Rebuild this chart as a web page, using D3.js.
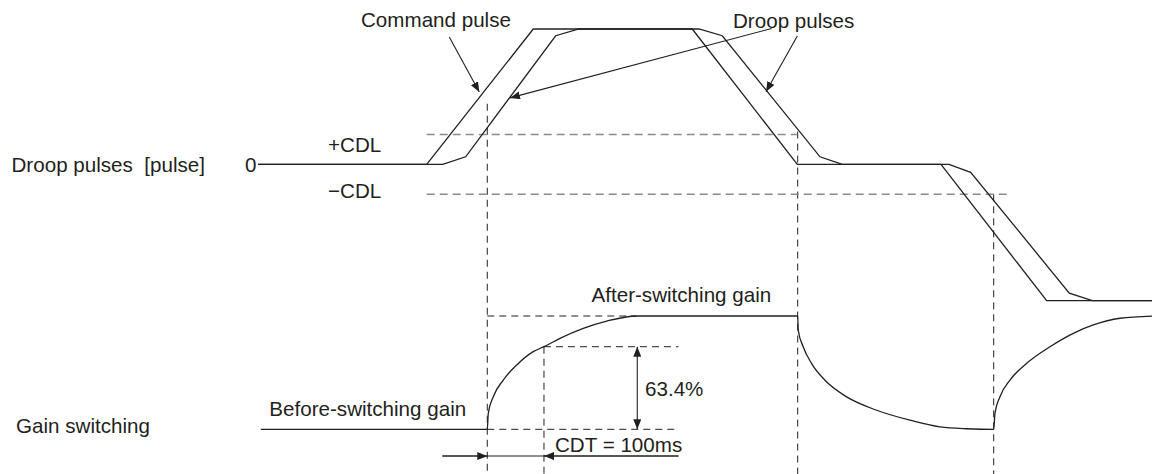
<!DOCTYPE html>
<html>
<head>
<meta charset="utf-8">
<script src="https://cdn.jsdelivr.net/npm/d3@7"></script>
<style>
  html, body { margin: 0; padding: 0; background: #fff; }
  svg { display: block; }
  .lbl { font-family: "Liberation Sans", Arial, sans-serif; font-size: 20.6px; fill: #231f20; }
</style>
</head>
<body>
<svg id="chart" width="1152" height="474"></svg>
<script>
// ---------- data (time in ms, droop in CDL units, gain 0 = before / 1 = after) ----------
const commandPulse = [
  [0, 0], [297.5, 0], [485.4, 4.62], [765.8, 4.62], [951, 0],
  [1204.4, 0], [1390.7, -4.65], [1580, -4.65]
];
const droopPulse = [
  [0, 0], [297.5, 0], [325.7, 0], [366.2, 0.26], [524.9, 4.39], [566, 4.62],
  [777.6, 4.62], [818.7, 4.39], [991, 0.26], [1030.3, 0], [1218.5, 0],
  [1256.7, -0.27], [1430.6, -4.39], [1471.2, -4.65], [1580, -4.65]
];
const gainCurve = [
  [5, 0], [404.3, 0], [406.1, 0.141], [414.9, 0.288], [432.5, 0.435], [456.2, 0.568],
  [485.4, 0.686], [504.3, 0.729], [532.5, 0.803], [573.6, 0.891], [614.9, 0.955],
  [667.8, 1], [951.7, 1],
  [952.7, 0.874], [961.5, 0.727], [976.3, 0.58], [999.8, 0.433], [1038.1, 0.286],
  [1091, 0.168], [1149.7, 0.08], [1202.6, 0.021], [1249.7, 0.005], [1297.3, 0],
  [1299.6, 0.141], [1308.4, 0.288], [1326.1, 0.435], [1355.5, 0.582], [1396.6, 0.729],
  [1437.7, 0.847], [1472.9, 0.921], [1520, 0.98], [1580, 1]
];
const cdl = 1.02;              // +/-CDL level
const switchTimes = [404.3, 951.7, 1297.3];
const cdt = 100;               // ms
const level634 = 0.729;        // where the 63.4% line sits in the drawing

// ---------- scales ----------
const svg = d3.select("#chart");
const x = d3.scaleLinear().domain([0, 1580]).range([258, 1154]);
const yP = d3.scaleLinear().domain([-4.65, 4.62]).range([300.7, 29]);
const yG = d3.scaleLinear().domain([0, 1]).range([429.3, 316]);
const H = 474;

const ink = "#231f20";

// ---------- defs ----------
const defs = svg.append("defs");
defs.append("marker")
  .attr("id", "arr")
  .attr("viewBox", "0 -4 10 8")
  .attr("refX", 10).attr("refY", 0)
  .attr("markerWidth", 10).attr("markerHeight", 8)
  .attr("markerUnits", "userSpaceOnUse")
  .attr("orient", "auto")
  .append("path").attr("d", "M0,-4L10,0L0,4Z").attr("fill", ink);
defs.append("marker")
  .attr("id", "arrS")
  .attr("viewBox", "0 -4 10 8")
  .attr("refX", 10).attr("refY", 0)
  .attr("markerWidth", 10).attr("markerHeight", 8)
  .attr("markerUnits", "userSpaceOnUse")
  .attr("orient", "auto-start-reverse")
  .append("path").attr("d", "M0,-4L10,0L0,4Z").attr("fill", ink);

// ---------- dashed guides ----------
const dark = svg.append("g")
  .attr("stroke", ink).attr("stroke-width", 1).attr("stroke-dasharray", "7,5").attr("fill", "none");
const gray = svg.append("g")
  .attr("stroke", "#8a8a8a").attr("stroke-width", 1.6).attr("stroke-dasharray", "8,5").attr("fill", "none");

// +/- CDL
gray.append("line").attr("x1", x(297.5)).attr("x2", x(951)).attr("y1", yP(cdl)).attr("y2", yP(cdl));
gray.append("line").attr("x1", x(297.5)).attr("x2", x(1325)).attr("y1", yP(-cdl)).attr("y2", yP(-cdl));

// switching verticals
const vStarts = [yP(2.07), yP(1.12), yP(-cdl)];
switchTimes.forEach((t, i) => {
  dark.append("line").attr("x1", x(t)).attr("x2", x(t)).attr("y1", vStarts[i]).attr("y2", H);
});
// CDT vertical
dark.append("line").attr("x1", x(switchTimes[0] + cdt)).attr("x2", x(switchTimes[0] + cdt))
  .attr("y1", yG(level634)).attr("y2", H);
// gain level guides
dark.append("line").attr("x1", x(switchTimes[0])).attr("x2", x(667.8)).attr("y1", yG(1)).attr("y2", yG(1));
dark.append("line").attr("x1", x(switchTimes[0] + cdt)).attr("x2", x(741.5)).attr("y1", yG(level634)).attr("y2", yG(level634));
dark.append("line").attr("x1", x(switchTimes[0])).attr("x2", x(741.5)).attr("y1", yG(0)).attr("y2", yG(0));

// ---------- signal lines ----------
const linePulse = d3.line().x(d => x(d[0])).y(d => yP(d[1]));
const lineGain = d3.line().x(d => x(d[0])).y(d => yG(d[1])).curve(d3.curveMonotoneX);

svg.append("path").attr("d", linePulse(commandPulse))
  .attr("fill", "none").attr("stroke", ink).attr("stroke-width", 1.3);
svg.append("path").attr("d", linePulse(droopPulse))
  .attr("fill", "none").attr("stroke", ink).attr("stroke-width", 1.3);
svg.append("path").attr("d", lineGain(gainCurve))
  .attr("fill", "none").attr("stroke", ink).attr("stroke-width", 1.3);

// ---------- annotation arrows ----------
const callouts = [
  { from: [337.3, 4.35], to: [390.2, 2.47] },
  { from: [905.8, 4.64], to: [444.4, 2.27] },
  { from: [951, 4.38], to: [895.8, 2.48] }
];
svg.append("g").selectAll("line").data(callouts).join("line")
  .attr("x1", d => x(d.from[0])).attr("y1", d => yP(d.from[1]))
  .attr("x2", d => x(d.to[0])).attr("y2", d => yP(d.to[1]))
  .attr("stroke", ink).attr("stroke-width", 1.1)
  .attr("marker-end", "url(#arr)");

// 63.4% double arrow
const tArrow = 668.8;
svg.append("line")
  .attr("x1", x(tArrow)).attr("x2", x(tArrow))
  .attr("y1", yG(level634)).attr("y2", yG(0))
  .attr("stroke", ink).attr("stroke-width", 1.1)
  .attr("marker-start", "url(#arrS)").attr("marker-end", "url(#arrS)");

// CDT dimension
const yCdt = yG(-0.236);
svg.append("line")
  .attr("x1", x(325)).attr("x2", x(741.5)).attr("y1", yCdt).attr("y2", yCdt)
  .attr("stroke", ink).attr("stroke-width", 1.1);
svg.append("line")
  .attr("x1", x(325)).attr("x2", x(switchTimes[0])).attr("y1", yCdt).attr("y2", yCdt)
  .attr("stroke", ink).attr("stroke-width", 1.1).attr("marker-end", "url(#arr)");
svg.append("line")
  .attr("x1", x(741.5)).attr("x2", x(switchTimes[0] + cdt)).attr("y1", yCdt).attr("y2", yCdt)
  .attr("stroke", ink).attr("stroke-width", 1.1).attr("marker-end", "url(#arr)");

// ---------- labels ----------
const labels = [
  { t: "Command pulse", x: 361, y: 26.5 },
  { t: "Droop pulses", x: 733, y: 27.5 },
  { t: "Droop pulses\u00a0\u00a0[pulse]", x: 11.5, y: 171.5 },
  { t: "0", x: 245, y: 171.5 },
  { t: "+CDL", x: 328, y: 152 },
  { t: "\u2212CDL", x: 328, y: 197.5 },
  { t: "After-switching gain", x: 591.5, y: 301.5 },
  { t: "Before-switching gain", x: 269.3, y: 415.7 },
  { t: "63.4%", x: 645, y: 396 },
  { t: "CDT = 100ms", x: 555, y: 451.7 },
  { t: "Gain switching", x: 16, y: 433.3 }
];
svg.append("g").selectAll("text").data(labels).join("text")
  .attr("class", "lbl")
  .attr("x", d => d.x).attr("y", d => d.y)
  .text(d => d.t);
</script>
</body>
</html>
